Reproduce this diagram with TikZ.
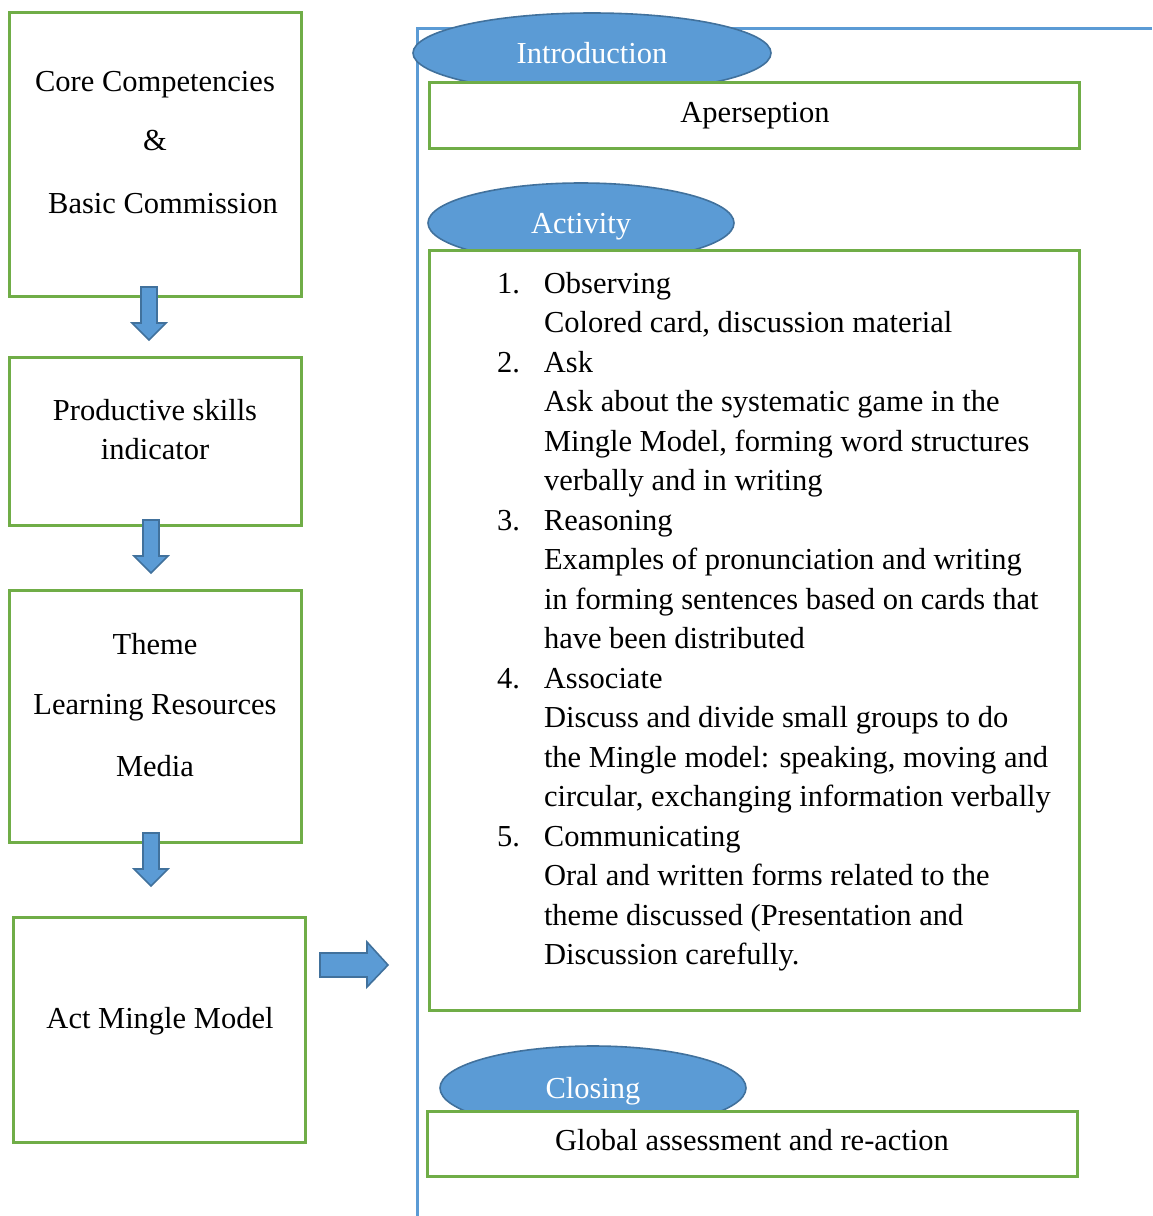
\documentclass[tikz,border=0pt]{standalone}
\usepackage{fontspec}
\setmainfont{Liberation Serif}
\usetikzlibrary{shapes.geometric}
\definecolor{bfill}{HTML}{5B9BD5}
\definecolor{bline}{HTML}{41719C}
\definecolor{gline}{HTML}{70AD47}
\begin{document}
\begin{tikzpicture}[x=1pt,y=-1pt,
  every node/.style={font=\fontsize{30.5}{39.5}\selectfont, inner sep=0pt, outer sep=0pt},
  gbox/.style={draw=gline, line width=3pt, fill=white, rectangle},
  oval/.style={ellipse, draw=bline, line width=1.6pt, fill=bfill, text=white, text height=20pt, text depth=0pt},
  blockarrow/.style={fill=bfill, draw=bline, line width=1.6pt, line join=miter},
  txt/.style={anchor=base}
]
\useasboundingbox (0,0) rectangle (1152,1216);
% frame line
\coordinate (fb) at (417,1216);
\coordinate (ft) at (417,28);
\coordinate (fr) at (1152,28);
\draw[bfill, line width=3pt] (fb) -- (ft) -- (fr);

% ovals
\node[oval, minimum width=358pt, minimum height=80pt] (intro) at (592,53) {Introduction};
\node[oval, minimum width=306pt, minimum height=80pt] (act) at (581,223) {Activity};
\node[oval, minimum width=306pt, minimum height=84pt] (clos) at (593,1088) {Closing};

% right boxes
\node[gbox, minimum width=650pt, minimum height=66pt] (aper) at (754,115) {};
\node[gbox, minimum width=650pt, minimum height=760pt] (actbox) at (754,630) {};
\node[gbox, minimum width=650pt, minimum height=65pt] (closbox) at (752,1143.5) {};
\node[txt] (apert) at (755,122) {Aperseption};
\node[txt] (clost) at (752,1150) {Global assessment and re-action};

\node[anchor=base west] (list) at (497,293) {%
\begin{tabular}[t]{@{}p{47pt}@{}l@{}}
1. & Observing\\
   & Colored card, discussion material\\
2. & Ask\\
   & Ask about the systematic game in the\\
   & Mingle Model, forming word structures\\
   & verbally and in writing\\
3. & Reasoning\\
   & Examples of pronunciation and writing\\
   & in forming sentences based on cards that\\
   & have been distributed\\
4. & Associate\\
   & Discuss and divide small groups to do\\
   & the Mingle model: speaking, moving and\\
   & circular, exchanging information verbally\\
5. & Communicating\\
   & Oral and written forms related to the\\
   & theme discussed (Presentation and\\
   & Discussion carefully.
\end{tabular}};

% left boxes
\node[gbox, minimum width=292pt, minimum height=284pt] (b1) at (155,154) {};
\node[gbox, minimum width=292pt, minimum height=168pt] (b2) at (155,441) {};
\node[gbox, minimum width=292pt, minimum height=252pt] (b3) at (155,716) {};
\node[gbox, minimum width=292pt, minimum height=225pt] (b4) at (159,1029.5) {};

\node[txt] (b1a) at (155,91) {Core Competencies};
\node[txt] (b1b) at (155,150) {\&};
\node[txt] (b1c) at (163,213) {Basic Commission};
\node[txt] (b2a) at (155,420) {Productive skills};
\node[txt] (b2b) at (155,459) {indicator};
\node[txt] (b3a) at (155,654) {Theme};
\node[txt] (b3b) at (155,714) {Learning Resources};
\node[txt] (b3c) at (155,776) {Media};
\node[txt] (b4a) at (160,1028) {Act Mingle Model};

% block arrows
\newcommand{\downarrowblk}[4]{% cx, top, headstart, tip
  \draw[blockarrow] (#1-8,#2) -- (#1+8,#2) -- (#1+8,#3) -- (#1+17,#3) -- (#1,#4)
    -- (#1-17,#3) -- (#1-8,#3) -- cycle;}
\downarrowblk{149}{287}{323}{340}
\downarrowblk{151}{520}{556}{573}
\downarrowblk{151}{833}{869}{886}
\draw[blockarrow] (320,953) -- (367,953) -- (367,942) -- (388,965) -- (367,987)
  -- (367,977) -- (320,977) -- cycle;
\end{tikzpicture}
\end{document}
